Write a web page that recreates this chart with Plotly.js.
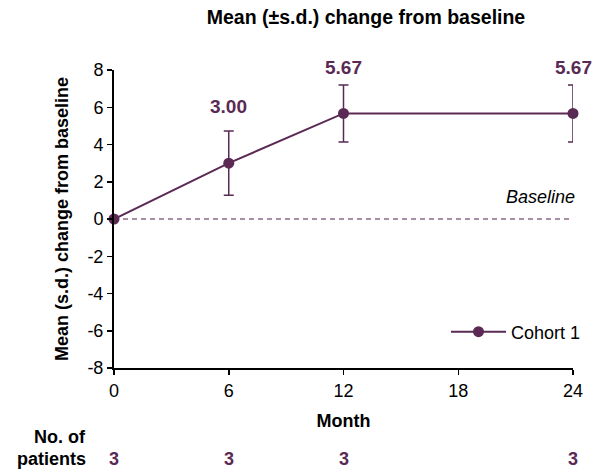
<!DOCTYPE html>
<html>
<head>
<meta charset="utf-8">
<script src="https://cdn.plot.ly/plotly-3.0.1.min.js"></script>
<style>
  html, body { margin: 0; padding: 0; background: #fff; }
  #chart { width: 606px; height: 473px; }
</style>
</head>
<body>
<div id="chart"></div>
<script>
// Mean change from baseline by month, Cohort 1
const months = [0, 6, 12, 24];
const meanChange = [0, 3.00, 5.67, 5.67];
const sdChange = [0, 1.73, 1.53, 1.53];
const patients = [3, 3, 3, 3];
const xTicks = [0, 6, 12, 18, 24];
const yTicks = [-8, -6, -4, -2, 0, 2, 4, 6, 8];
const yTickText = ['-8', '-6', '-4', '-2', '0', '2', '4', '6', '8'];

const PURPLE = '#5a2a54';
const FONT = 'Liberation Sans, Arial, sans-serif';

const cohort = {
  x: months,
  y: meanChange,
  type: 'scatter',
  mode: 'lines+markers',
  name: 'Cohort 1',
  cliponaxis: false,
  line: { color: PURPLE, width: 2 },
  marker: { color: PURPLE, size: 11 },
  error_y: { type: 'data', array: sdChange, visible: true, color: PURPLE, thickness: 1.5, width: 5 }
};

const baseline = {
  x: [months[0], months[months.length - 1]],
  y: [0, 0],
  type: 'scatter',
  mode: 'lines',
  showlegend: false,
  hoverinfo: 'skip',
  line: { color: '#8a6a86', width: 1.3, dash: '5px,4px' }
};

const annotations = [];
// value labels above the error bars (skip the baseline point)
const labelShift = [0, 12, 5, 5];
months.forEach((m, i) => {
  if (i === 0) return;
  annotations.push({
    x: m, y: meanChange[i] + sdChange[i], xref: 'x', yref: 'y',
    text: '<b>' + meanChange[i].toFixed(2) + '</b>',
    showarrow: false, yanchor: 'bottom', yshift: labelShift[i],
    font: { family: FONT, size: 19, color: PURPLE }
  });
});
annotations.push({
  x: 24, y: 0, xref: 'x', yref: 'y', text: '<i>Baseline</i>',
  showarrow: false, xanchor: 'right', yanchor: 'bottom', yshift: 10, xshift: 4,
  font: { family: FONT, size: 18, color: '#000' }
});
// patients at risk row
annotations.push({
  x: -0.056, y: -0.232, xref: 'paper', yref: 'paper', text: '<b>No. of</b>',
  showarrow: false, xanchor: 'right', yanchor: 'middle',
  font: { family: FONT, size: 18, color: '#000' }
});
annotations.push({
  x: -0.056, y: -0.305, xref: 'paper', yref: 'paper', text: '<b>patients</b>',
  showarrow: false, xanchor: 'right', yanchor: 'middle',
  font: { family: FONT, size: 18, color: '#000' }
});
months.forEach((m, i) => {
  annotations.push({
    x: m, y: -0.305, xref: 'x', yref: 'paper', text: '<b>' + patients[i] + '</b>',
    showarrow: false, xanchor: 'center', yanchor: 'middle',
    font: { family: FONT, size: 18, color: PURPLE }
  });
});

const layout = {
  width: 606, height: 473,
  margin: { l: 114, r: 33, t: 70, b: 105 },
  paper_bgcolor: '#fff', plot_bgcolor: '#fff',
  font: { family: FONT, size: 18, color: '#000' },
  title: {
    text: '<b>Mean (±s.d.) change from baseline</b>',
    font: { family: FONT, size: 19.5, color: '#000' },
    x: 366 / 606, xanchor: 'center', y: 1 - 17 / 473, yanchor: 'middle'
  },
  xaxis: {
    range: [0, 24], tickvals: xTicks, ticktext: xTicks.map(String),
    showgrid: false, zeroline: false,
    showline: true, linecolor: '#000', linewidth: 2,
    ticks: 'outside', ticklen: 5, tickwidth: 1.5, tickcolor: '#000',
    tickfont: { family: FONT, size: 18 },
    title: { text: '<b>Month</b>', font: { family: FONT, size: 18 }, standoff: 15 }
  },
  yaxis: {
    range: [-8, 8], tickvals: yTicks, ticktext: yTickText,
    showgrid: false, zeroline: false,
    showline: true, linecolor: '#000', linewidth: 2,
    ticks: 'outside', ticklen: 5, tickwidth: 1.5, tickcolor: '#000',
    tickfont: { family: FONT, size: 18 },
    title: { text: '<b>Mean (s.d.) change from baseline</b>', font: { family: FONT, size: 18 }, standoff: 14 }
  },
  legend: {
    x: (446 - 114) / 459, y: (368 - 332) / 298, xanchor: 'left', yanchor: 'middle',
    bgcolor: 'rgba(0,0,0,0)', font: { family: FONT, size: 18 },
    itemwidth: 55
  },
  annotations: annotations,
  showlegend: true
};

Plotly.newPlot('chart', [baseline, cohort], layout, { displayModeBar: false, staticPlot: true });
</script>
</body>
</html>
